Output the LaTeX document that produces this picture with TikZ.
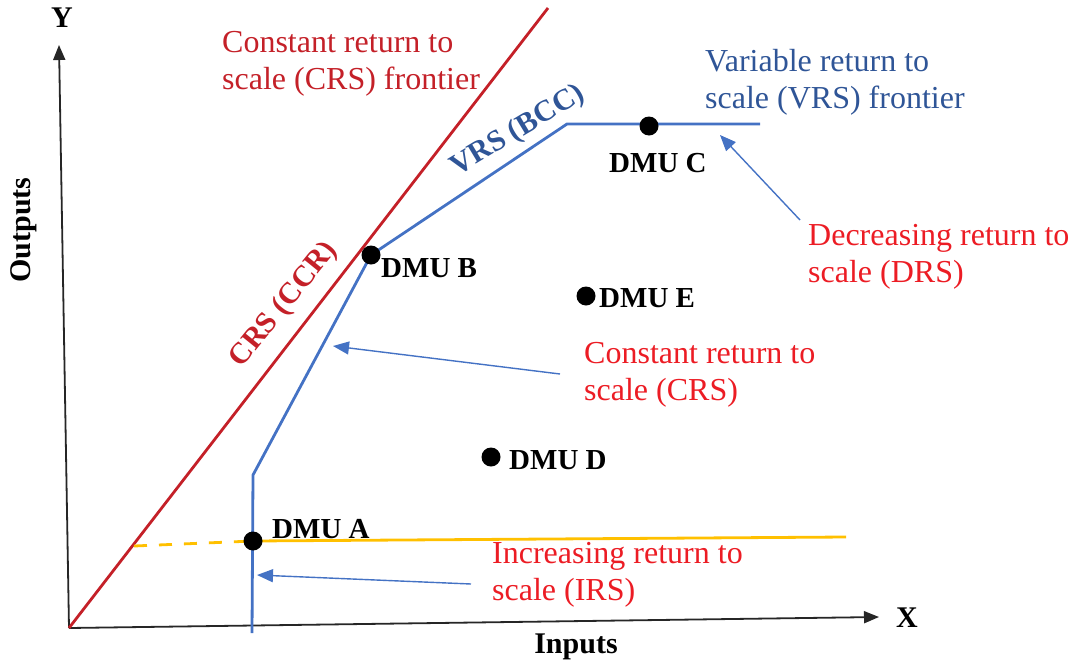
\documentclass[tikz,border=0pt]{standalone}
\usepackage{fontspec}
\setmainfont{Liberation Serif}
\usetikzlibrary{arrows.meta}
\definecolor{crsred}{RGB}{196,32,40}
\definecolor{notered}{RGB}{236,28,36}
\definecolor{vrsblue}{RGB}{68,114,196}
\definecolor{textblue}{RGB}{47,85,151}
\definecolor{irsyellow}{RGB}{255,192,0}
\begin{document}
\begin{tikzpicture}[x=1pt,y=-1pt,
  axisline/.style={line width=1.8pt, black!85, -{Triangle[length=15pt,width=12pt]}},
  crsline/.style={line width=2.8pt, crsred},
  vrsline/.style={line width=2.8pt, vrsblue, line join=miter},
  scaleline/.style={line width=2.8pt, irsyellow},
  notearrow/.style={line width=1.4pt, vrsblue, -{Triangle[length=16pt,width=13pt]}},
  dmudot/.style={circle, fill=black, inner sep=0pt, minimum size=19pt},
  dmulabel/.style={font=\fontsize{29}{32}\selectfont\bfseries, inner sep=0pt, anchor=base west},
  note/.style={font=\fontsize{32}{36.5}\selectfont, align=left, inner sep=0pt, anchor=base west},
  axislabel/.style={font=\fontsize{30}{32}\selectfont\bfseries, inner sep=0pt}
]
\useasboundingbox (0,0) rectangle (1078,664);

% axes
\coordinate (O) at (69,628);
\coordinate (ytip) at (59,45);
\coordinate (xtip) at (879,617);
\draw[axisline] (O) -- (ytip);
\draw[axisline] (O) -- (xtip);
\node[axislabel] (ylab) at (62,18) {Y};
\node[axislabel] (xlab) at (907,618) {X};
\node[axislabel, anchor=base] (inputs) at (576,653) {Inputs};
\node[axislabel, rotate=90] (outputs) at (24,230) {Outputs};

% CRS frontier
\coordinate (crsend) at (548,8);
\draw[crsline] (O) -- (crsend);

% DMU points
\coordinate (Apos) at (253,541);
\coordinate (Bpos) at (371,255);

% scale line through DMU A
\coordinate (yst) at (134,546);
\coordinate (yend) at (846,537);
\draw[scaleline, dash pattern=on 13pt off 12pt] (yst) -- (Apos);
\draw[scaleline] (Apos) -- (yend);

% VRS frontier
\coordinate (vbot) at (252,633);
\coordinate (vknee) at (253,475);
\coordinate (vtop) at (567,124);
\coordinate (vend) at (760,124);
\draw[vrsline] (vbot) -- (vknee) -- (Bpos) -- (vtop) -- (vend);

\node[dmudot] (A) at (Apos) {};
\node[dmudot] (B) at (Bpos) {};
\node[dmudot] (C) at (649,126) {};
\node[dmudot] (D) at (491,457) {};
\node[dmudot] (E) at (586,296) {};

\node[dmulabel] (Alab) at (272,538) {DMU A};
\node[dmulabel] (Blab) at (381,277) {DMU B};
\node[dmulabel] (Clab) at (609,172) {DMU C};
\node[dmulabel] (Dlab) at (509,469) {DMU D};
\node[dmulabel] (Elab) at (599,307) {DMU E};

% frontier names along the lines
\node[font=\fontsize{30}{32}\selectfont\bfseries, text=crsred, rotate=51, inner sep=0pt] (crsname) at (284,305) {CRS (CCR)};
\node[font=\fontsize{30}{32}\selectfont\bfseries, text=textblue, rotate=31, inner sep=0pt] (vrsname) at (518,131) {VRS (BCC)};

% annotations (anchored at the baseline of their last line)
\node[note, text=crsred] (crsnote) at (222,89) {Constant return to\\scale (CRS) frontier};
\node[note, text=textblue] (vrsnote) at (705,108) {Variable return to\\scale (VRS) frontier};
\node[note, text=notered] (drsnote) at (808,282) {Decreasing return to\\scale (DRS)};
\node[note, text=notered] (crsmid) at (584,400) {Constant return to\\scale (CRS)};
\node[note, text=notered] (irsnote) at (492,600) {Increasing return to\\scale (IRS)};

% pointers
\coordinate (drsfrom) at (800,220);
\coordinate (drsto) at (720,135);
\coordinate (crsfrom) at (560,374);
\coordinate (crsto) at (333,346);
\coordinate (irsfrom) at (471,584);
\coordinate (irsto) at (257,575);
\draw[notearrow] (drsfrom) -- (drsto);
\draw[notearrow] (crsfrom) -- (crsto);
\draw[notearrow] (irsfrom) -- (irsto);
\end{tikzpicture}
\end{document}
